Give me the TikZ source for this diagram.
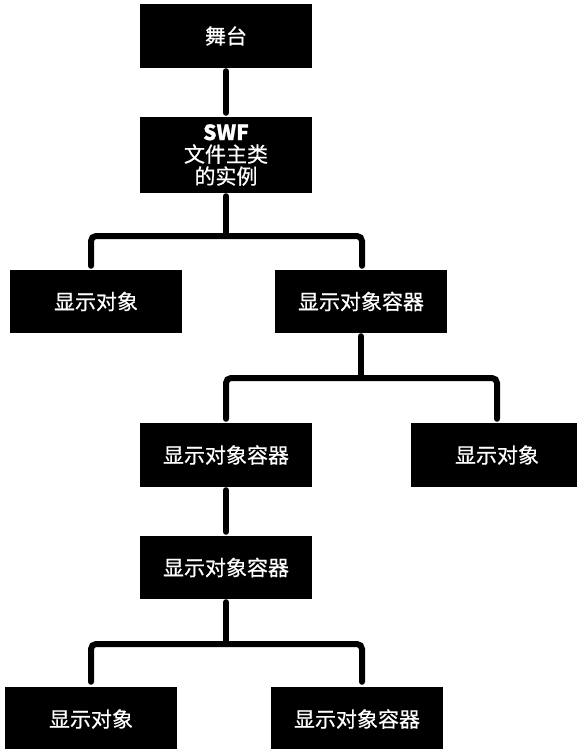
\documentclass[tikz,border=0pt]{standalone}
\usepackage{fontspec}
\setmainfont{Noto Sans CJK SC}[FakeBold=0.6]
\begin{document}
\begin{tikzpicture}[x=1pt,y=-1pt,
  box/.style={fill=black,text=white,minimum width=172pt,minimum height=64pt,inner sep=0pt,
    font=\fontsize{21pt}{22pt}\selectfont,align=center},
  conn/.style={line width=6pt,line cap=round,rounded corners=5pt}]
\fill[white] (0,0) rectangle (577,749);
\useasboundingbox (0,0) rectangle (577,749);
\node[box] (stage) at (226,36) {舞台};
\node[box,minimum height=76pt] (swf) at (226,155) {{\bfseries SWF}\\文件主类\\的实例};
\node[box,minimum height=63pt] (l1) at (96,301.5) {显示对象};
\node[box,minimum height=63pt] (c1) at (361,301.5) {显示对象容器};
\node[box] (c2) at (226,455) {显示对象容器};
\node[box] (o2) at (497,455) {显示对象};
\node[box,minimum height=63pt] (c3) at (226,567.5) {显示对象容器};
\node[box] (l3) at (91,719) {显示对象};
\node[box] (c4) at (357,719) {显示对象容器};
\coordinate (b1) at (226,236);
\coordinate (b2) at (361,378);
\coordinate (b3) at (226,644);
\draw[conn] ([yshift=-3pt]stage.south) -- ([yshift=4pt]swf.north);
\draw[conn] ([yshift=-3pt]swf.south) -- (b1);
\draw[conn] ([xshift=-5pt,yshift=4pt]l1.north) |- (b1) -| ([xshift=1pt,yshift=4pt]c1.north);
\draw[conn] ([yshift=-3pt]c1.south) -- (b2);
\draw[conn] ([yshift=4pt]c2.north) |- (b2) -| ([yshift=4pt]o2.north);
\draw[conn] ([yshift=-3pt]c2.south) -- ([yshift=4pt]c3.north);
\draw[conn] ([yshift=-3pt]c3.south) -- (b3);
\draw[conn] ([yshift=5pt]l3.north) |- (b3) -| ([xshift=5pt,yshift=5pt]c4.north);
\end{tikzpicture}
\end{document}
